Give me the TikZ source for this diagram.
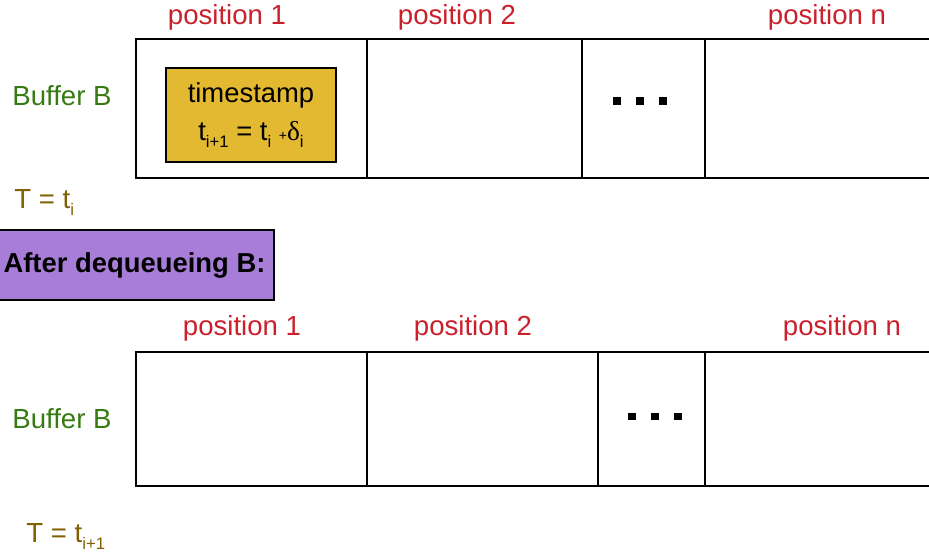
\documentclass[tikz,border=0pt]{standalone}
\usepackage{fontspec}
\setmainfont{Liberation Sans}
\newfontfamily\deltafont{Liberation Serif}
\definecolor{poscolor}{RGB}{202,32,44}
\definecolor{bufcolor}{RGB}{54,122,18}
\definecolor{timecolor}{RGB}{128,96,0}
\definecolor{stampfill}{RGB}{228,185,50}
\definecolor{notefill}{RGB}{167,125,216}
\newcommand{\tsub}[1]{\raisebox{-0.5ex}{\fontsize{9.5}{9.5}\selectfont #1}}
\tikzset{
  poslabel/.style={text=poscolor, anchor=base, inner sep=0pt},
  buflabel/.style={text=bufcolor, anchor=base west, inner sep=0pt},
  timelabel/.style={text=timecolor, anchor=base west, inner sep=0pt},
  cellline/.style={line width=0.9pt},
  stampbox/.style={draw, line width=0.9pt, fill=stampfill, minimum width=3.4cm,
    minimum height=1.88cm, align=center, font=\fontsize{15.6}{21.6}\selectfont},
  notebox/.style={draw, line width=0.9pt, fill=notefill, minimum width=5.58cm,
    minimum height=1.4cm, font=\fontsize{15.6}{18}\selectfont\bfseries},
  dotsq/.style={fill=black, minimum size=4pt, inner sep=0pt},
}
\begin{document}
\begin{tikzpicture}[x=0.02cm, y=-0.02cm, font=\fontsize{15.7}{18}\selectfont]
\useasboundingbox (0,0) rectangle (929,556);

% before dequeueing
\node[poslabel] (p1a) at (227,24) {position 1};
\node[poslabel] (p2a) at (457,24) {position 2};
\node[poslabel] (pna) at (827,24) {position n};
\node[buflabel] (bufa) at (12,105) {Buffer B};
\draw[cellline] (929,39) -- (136,39) -- (136,178) -- (929,178);
\foreach \x in {367,582,705}
  \draw[cellline] (\x,39) -- (\x,178);
\node[stampbox] (stamp) at (251,115) {timestamp\\
  t\tsub{i+1} = t\tsub{i} {\footnotesize +}{\deltafont δ}\tsub{i}};
\foreach \x [count=\i] in {617,640,663}
  \node[dotsq] (dota\i) at (\x,101) {};
\node[timelabel] (ta) at (14,208) {T = t\tsub{i}};

\node[notebox] (after) at (134.5,265) {After dequeueing B:};

% after dequeueing
\node[poslabel] (p1b) at (242,335) {position 1};
\node[poslabel] (p2b) at (473,335) {position 2};
\node[poslabel] (pnb) at (842,335) {position n};
\node[buflabel] (bufb) at (12,428) {Buffer B};
\draw[cellline] (929,352) -- (136,352) -- (136,486) -- (929,486);
\foreach \x in {367,598,705}
  \draw[cellline] (\x,352) -- (\x,486);
\foreach \x [count=\i] in {632,655,678}
  \node[dotsq] (dotb\i) at (\x,416) {};
\node[timelabel] (tb) at (26,542) {T = t\tsub{i+1}};
\end{tikzpicture}
\end{document}
